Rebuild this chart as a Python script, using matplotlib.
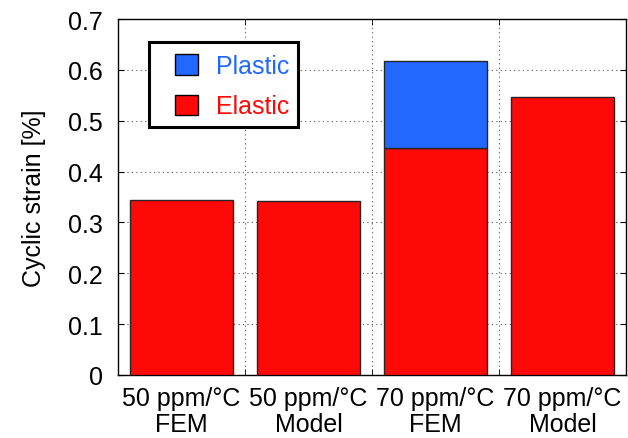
import matplotlib
matplotlib.use("Agg")
import matplotlib.pyplot as plt
from matplotlib.patches import Rectangle
import numpy as np

categories = ["50 ppm/°C\nFEM", "50 ppm/°C\nModel", "70 ppm/°C\nFEM", "70 ppm/°C\nModel"]
elastic = [0.345, 0.342, 0.447, 0.546]
plastic = [0.0, 0.0, 0.171, 0.0]

plt.rcParams['font.family'] = ['Liberation Sans', 'DejaVu Sans']
FS = 18

W, H = 628, 439
fig = plt.figure(figsize=(W / 100, H / 100), dpi=100)
ax = fig.add_axes([118 / W, 1 - 376 / H, 508 / W, 356 / H])

x = np.arange(len(categories))
red = '#ff0808'
blue = '#2268ff'
edge = '#262626'
ax.bar(x, elastic, width=0.81, color=red, edgecolor=edge, linewidth=1.0, label='Elastic', zorder=3)
mask = np.array(plastic) > 0
ax.bar(x[mask], np.array(plastic)[mask], bottom=np.array(elastic)[mask], width=0.81,
       color=blue, edgecolor=edge, linewidth=1.0, label='Plastic', zorder=3)

ax.set_xlim(-0.5, 3.5)
ax.set_ylim(0, 0.7)
ax.set_yticks(np.arange(0, 0.71, 0.1))
ax.set_yticklabels(["0", "0.1", "0.2", "0.3", "0.4", "0.5", "0.6", "0.7"])
ax.set_xticks(x)
ax.set_xticklabels(categories, linespacing=1.1)
ax.set_xticks([0.5, 1.5, 2.5], minor=True)
ax.tick_params(axis='x', which='major', length=0, labelsize=FS, pad=8)
ax.tick_params(axis='x', which='minor', direction='in', length=4, top=True, bottom=True)
ax.tick_params(axis='y', direction='in', length=4, right=True, labelsize=FS, pad=11)
ax.grid(True, axis='y', which='major', linestyle=(0, (1, 3)), color='#555555', linewidth=0.8, zorder=0)
ax.grid(True, axis='x', which='minor', linestyle=(0, (1, 3)), color='#555555', linewidth=0.8, zorder=0)
ax.set_ylabel("Cyclic strain [%]", fontsize=FS, labelpad=16)
for s in ax.spines.values():
    s.set_linewidth(1.0)

# legend frame: white box with a heavy black outline, placed in figure pixels
box = Rectangle((149 / W, 1 - 128 / H), 149 / W, 85 / H, transform=fig.transFigure,
                facecolor='white', edgecolor='black', linewidth=2.2, zorder=5, clip_on=False)
ax.add_artist(box)

handles, labels = ax.get_legend_handles_labels()
leg = ax.legend(handles[::-1], labels[::-1], loc='upper left',
                bbox_to_anchor=(175 / W, 1 - 55 / H), bbox_transform=fig.transFigure,
                fontsize=FS, frameon=False, handlelength=0.92, handleheight=0.88,
                handletextpad=0.72, borderpad=0, labelspacing=0.66, borderaxespad=0)
leg.set_zorder(6)
for t, c in zip(leg.get_texts(), [blue, red]):
    t.set_color(c)
for p in leg.get_patches():
    p.set_edgecolor('black')

fig.savefig("out.png", dpi=100)
